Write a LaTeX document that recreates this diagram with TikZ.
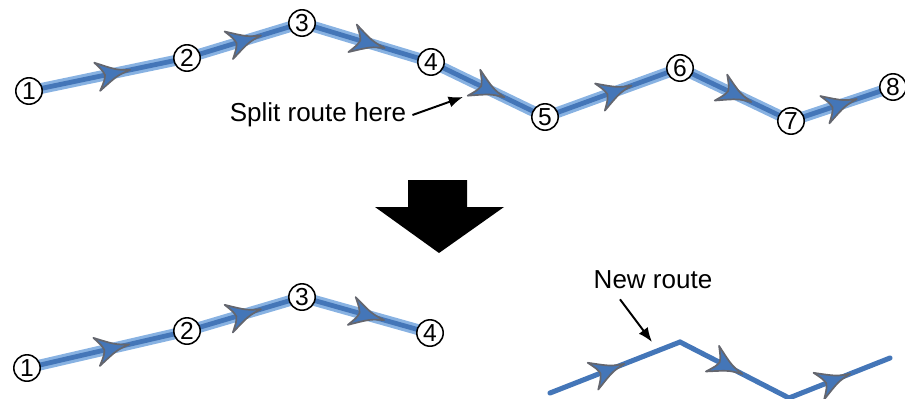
\documentclass[tikz,border=0pt]{standalone}
\usepackage{fontspec}
\setmainfont{Liberation Sans}
\usetikzlibrary{arrows.meta, decorations.markings}
\definecolor{haloblue}{RGB}{136,178,226}
\definecolor{coreblue}{RGB}{68,118,184}
\definecolor{tipgray}{RGB}{100,102,110}

\begin{document}
\begin{tikzpicture}[
x=0.25mm, y=-0.25mm,
waypt/.style={circle, draw, line width=1.1pt, fill=white, minimum size=6.6mm, inner sep=0pt, font=\fontsize{17.5}{19}\selectfont},
flow/.style={decoration={markings, mark=at position #1 with {\filldraw[fill=coreblue, draw=tipgray, line width=1.2pt, line join=round] (0.4mm,0) .. controls (-3mm,0.7mm) .. (-8mm,3.6mm) .. controls (-6.4mm,1.3mm) .. (-6mm,0) .. controls (-6.4mm,-1.3mm) .. (-8mm,-3.6mm) .. controls (-3mm,-0.7mm) .. cycle;}}, postaction=decorate},
flow/.default=0.63,
leg/.style={line width=3.4pt, draw=coreblue, line cap=round, preaction={draw=haloblue, line width=7.8pt, line cap=round}, flow},
newleg/.style={line width=3.6pt, draw=coreblue, line cap=round, flow=#1},
note/.style={-{Latex[length=3.6mm, width=2.8mm]}, line width=1.4pt},
remark/.style={font=\fontsize{18.5}{22}\selectfont, inner sep=1.5mm}
]
\useasboundingbox (0,0) rectangle (905,398);

% original route
\coordinate (a1) at (29,91);
\coordinate (a2) at (187,58);
\coordinate (a3) at (302,23);
\coordinate (a4) at (431,62);
\coordinate (a5) at (545,117);
\coordinate (a6) at (680,68);
\coordinate (a7) at (791,121);
\coordinate (a8) at (893,87);
\draw[leg] (a1) -- (a2);
\draw[leg] (a2) -- (a3);
\draw[leg] (a3) -- (a4);
\draw[leg] (a4) -- (a5);
\draw[leg] (a5) -- (a6);
\draw[leg] (a6) -- (a7);
\draw[leg] (a7) -- (a8);
\node[waypt] (n1) at (a1) {1};
\node[waypt] (n2) at (a2) {2};
\node[waypt] (n3) at (a3) {3};
\node[waypt] (n4) at (a4) {4};
\node[waypt] (n5) at (a5) {5};
\node[waypt] (n6) at (a6) {6};
\node[waypt] (n7) at (a7) {7};
\node[waypt] (n8) at (a8) {8};

\node[remark] (split) at (318,115) {Split route here};
\coordinate (splitpt) at (463,97);
\draw[note] (split.east) -- (splitpt);

% big arrow
\fill (408,180) -- (467,180) -- (467,207) -- (504,207) -- (439,253) -- (375,207) -- (408,207) -- cycle;

% first part
\coordinate (b1) at (27,368);
\coordinate (b2) at (187,331);
\coordinate (b3) at (302,297);
\coordinate (b4) at (430,333);
\draw[leg] (b1) -- (b2);
\draw[leg] (b2) -- (b3);
\draw[leg] (b3) -- (b4);
\node[waypt] (m1) at (b1) {1};
\node[waypt] (m2) at (b2) {2};
\node[waypt] (m3) at (b3) {3};
\node[waypt] (m4) at (b4) {4};

% new route
\coordinate (c1) at (550,393);
\coordinate (c2) at (680,342);
\coordinate (c3) at (789,398);
\coordinate (c4) at (890,358);
\draw[newleg=0.56] (c1) -- (c2);
\draw[newleg=0.56] (c2) -- (c3);
\draw[newleg=0.59] (c3) -- (c4);

\node[remark] (newr) at (653,280) {New route};
\coordinate (newpt) at (652,342);
\draw[note] ([xshift=-8.25mm, yshift=-1mm]newr.south) -- (newpt);
\end{tikzpicture}
\end{document}
